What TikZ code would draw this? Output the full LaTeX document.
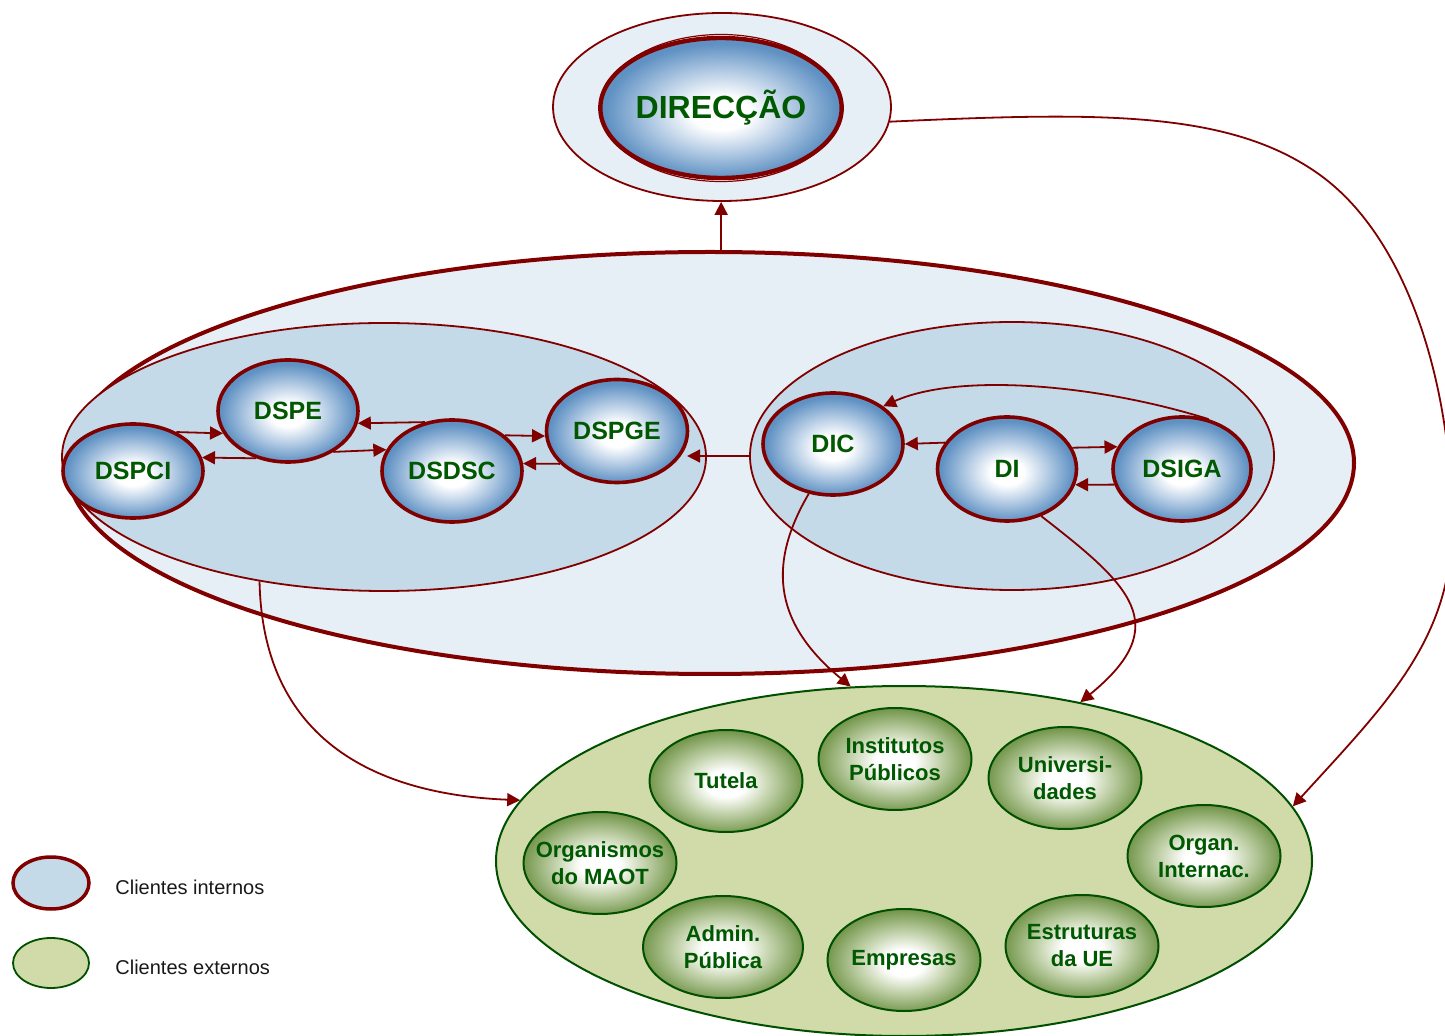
\documentclass[tikz,border=0pt]{standalone}
\usepackage{fontspec}
\setmainfont{Liberation Sans}
\usetikzlibrary{shapes.geometric,arrows.meta}
\definecolor{dred}{RGB}{128,0,0}
\definecolor{lightbg}{RGB}{230,238,246}
\definecolor{grpbg}{RGB}{197,218,232}
\definecolor{blueE}{RGB}{95,145,195}
\definecolor{blueM}{RGB}{185,207,230}
\definecolor{greenbg}{RGB}{209,219,170}
\definecolor{greenE}{RGB}{118,152,78}
\definecolor{greenM}{RGB}{200,214,178}
\definecolor{dgreen}{RGB}{0,80,0}
\definecolor{txtgreen}{RGB}{0,88,0}
\definecolor{legtxt}{RGB}{25,25,25}
\pgfdeclareradialshading{bluesh}{\pgfpoint{0bp}{-2bp}}{color(0bp)=(white); color(6bp)=(white); color(14bp)=(blueM); color(24bp)=(blueE); color(50bp)=(blueE)}
\pgfdeclareradialshading{greensh}{\pgfpoint{0bp}{-1.5bp}}{color(0bp)=(white); color(6.5bp)=(white); color(14bp)=(greenM); color(25bp)=(greenE); color(50bp)=(greenE)}
\begin{document}
\begin{tikzpicture}[x=0.5pt,y=-0.5pt,
  region/.style={ellipse, inner sep=0pt},
  bluenode/.style={ellipse, inner sep=0pt, draw=dred, line width=1.8pt, shade, shading=bluesh,
     text=txtgreen, font=\fontsize{12.5}{14}\selectfont\bfseries, minimum width=70pt, minimum height=51pt},
  greennode/.style={ellipse, inner xsep=-8pt, inner ysep=0pt, draw=dgreen, line width=1pt, shade, shading=greensh,
     text=txtgreen, align=center, font=\fontsize{11}{13.5}\selectfont\bfseries, minimum width=76.5pt, minimum height=51pt},
  legtext/.style={anchor=west, inner sep=0pt, text=legtxt, font=\fontsize{10}{12}\selectfont},
  arr/.style={draw=dred, line width=0.9pt, -{Triangle[length=6.5pt,width=6.5pt]}}]
\useasboundingbox (0,0) rectangle (1445,1036);

% DIRECCAO
\node[region, fill=lightbg, draw=dred, line width=0.9pt, minimum width=169pt, minimum height=94pt] (dirouter) at (722,107) {};
\node[region, fill=white, draw=dred, line width=0.6pt, minimum width=119.5pt, minimum height=73.5pt] (dirring) at (721,108) {};
\node[bluenode, line width=2.2pt, minimum width=116pt, minimum height=70pt, font=\fontsize{16}{18}\selectfont\bfseries] (dir) at (721,108) {DIRECÇÃO};

% internal clients
\node[region, fill=lightbg, draw=dred, line width=2pt, minimum width=644pt, minimum height=211pt] (bigell) at (710,463) {};
\node[region, fill=grpbg, draw=dred, line width=0.9pt, minimum width=322pt, minimum height=134pt] (lgroup) at (384,457) {};
\node[region, fill=grpbg, draw=dred, line width=0.9pt, minimum width=262pt, minimum height=134pt] (rgroup) at (1012,456) {};

\node[bluenode, minimum height=47pt] (dspci) at (133,471) {DSPCI};
\node[bluenode] (dspe) at (288,411) {DSPE};
\node[bluenode] (dsdsc) at (452,471) {DSDSC};
\node[bluenode, minimum width=70.5pt, minimum height=51.5pt] (dspge) at (617,431) {DSPGE};
\node[bluenode] (dic) at (833,444) {DIC};
\node[bluenode, minimum width=69.5pt, minimum height=52pt] (di) at (1007,469) {DI};
\node[bluenode, minimum width=69pt, minimum height=52pt] (dsiga) at (1182,469) {DSIGA};

% external clients
\node[region, fill=greenbg, draw=dgreen, line width=1pt, minimum width=408pt, minimum height=175pt] (gext) at (904,861) {};
\node[greennode] (tutela) at (726,781) {Tutela};
\node[greennode] (inst) at (895,759) {Institutos\\Públicos};
\node[greennode] (univ) at (1065,778) {Universi-\\dades};
\node[greennode] (orgmaot) at (600,863) {Organismos\\do MAOT};
\node[greennode] (orgint) at (1204,856) {Organ.\\Internac.};
\node[greennode, minimum width=80pt] (admin) at (723,947) {Admin.\\Pública};
\node[greennode] (empresas) at (904,960) {Empresas};
\node[greennode] (estrut) at (1082,946) {Estruturas\\da UE};

% legend
\node[region, fill=grpbg, draw=dred, line width=1.75pt, minimum width=38pt, minimum height=26pt] (legint) at (51,883) {};
\node[region, fill=greenbg, draw=dgreen, line width=0.9pt, minimum width=38pt, minimum height=25pt] (legext) at (51,963) {};
\node[legtext] (leginttxt) at (115,887) {Clientes internos};
\node[legtext] (legexttxt) at (115,967) {Clientes externos};

% connectors
\draw[arr] (bigell.87.6) -- (bigell.87.6 |- dirouter.south);
\draw[arr] (dspci.42.8) -- (dspe.199.3);
\draw[arr] (dspe.236.9) -- (dspci.11.8);
\draw[arr] (dsdsc.119.9) -- (dspe.-10.8);
\draw[arr] (dspe.-42.9) -- (dsdsc.162.6);
\draw[arr] (dsdsc.34.5) -- (dspge.184.1);
\draw[arr] (dspge.210.2) -- (dsdsc.6.6);
\draw[arr] (rgroup.west) -- ++(-62,0);
\draw[arr] (di.157.7) -- (dic.0);
\draw[arr] (di.18.2) -- (dsiga.161.6);
\draw[arr] (dsiga.193.6) -- (di.-13.4);
\draw[arr] (dsiga.62) .. controls (1100,385) and (960,372) .. (dic.37);
\draw[arr] (lgroup.225.7) .. controls (263,750) and (390,795) .. (gext.171.7);
\draw[arr] (dic.244.4) .. controls (770,560) and (770,620) .. (gext.107.3);
\draw[arr] (di.306.1) .. controls (1130,585) and (1175,625) .. (gext.42.1);
\draw[arr] (dirouter.-5.6) .. controls (1100,112) and (1230,110) .. (1320,175)
   .. controls (1410,240) and (1452,390) .. (1452,525)
   .. controls (1452,640) and (1385,705) .. (gext.8.2);
\end{tikzpicture}
\end{document}
